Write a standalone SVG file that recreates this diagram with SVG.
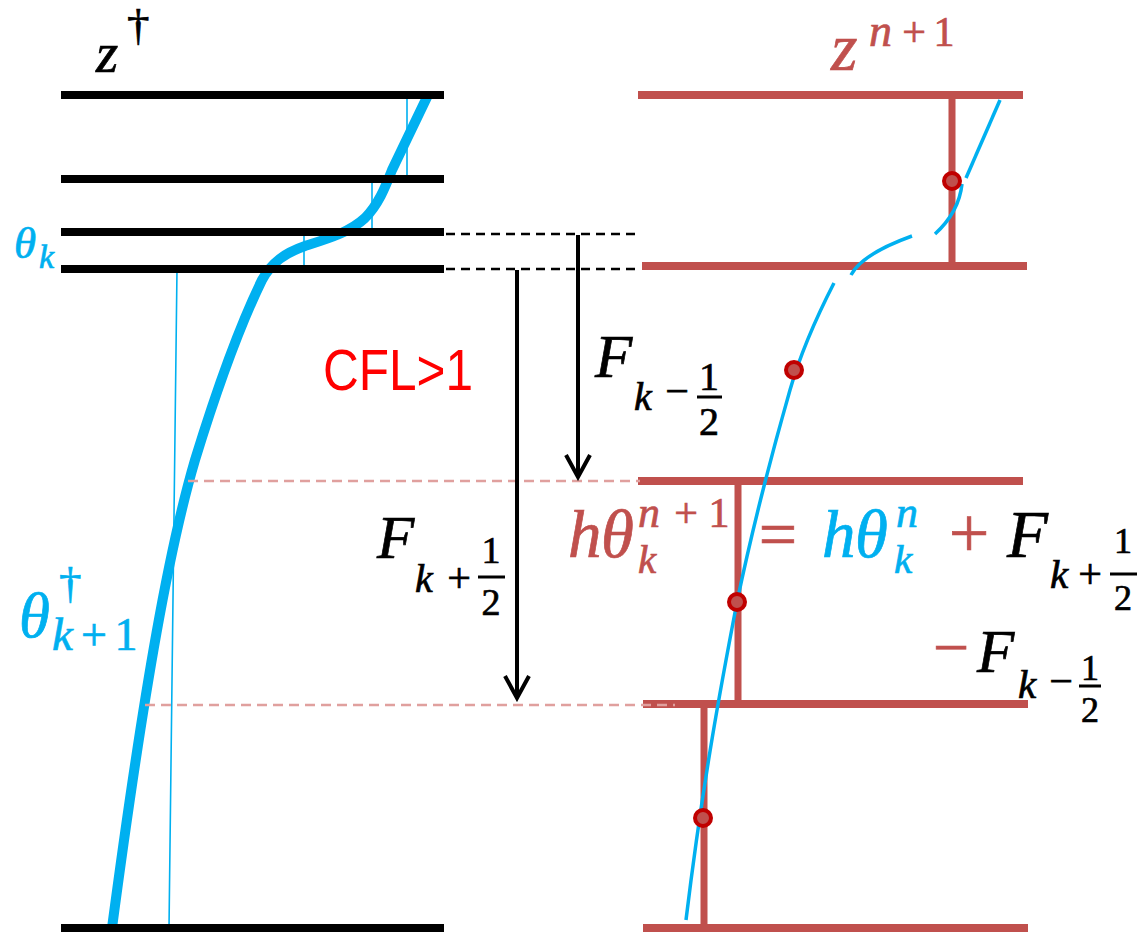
<svg xmlns="http://www.w3.org/2000/svg" width="1138" height="933" viewBox="0 0 1138 933">
<defs>
<style>
.blk{stroke:#000;stroke-width:8;fill:none}
.red{stroke:#c0504d;stroke-width:8;fill:none}
.redv{stroke:#c0504d;stroke-width:7;fill:none}
.dot{fill:#c0504d;stroke:#c00000;stroke-width:4}
.bdash{stroke:#000;stroke-width:2.5;stroke-dasharray:9 6;fill:none}
.pdash{stroke:#e0a09e;stroke-width:2.5;stroke-dasharray:10 6;fill:none}
.arr{stroke:#000;stroke-width:4;fill:none}
.m{font-family:"Liberation Serif","DejaVu Serif",serif;font-style:italic;stroke-width:0.7}
.u{font-family:"Liberation Serif","DejaVu Serif",serif;stroke-width:0.7}
.cb{fill:#00b0f0;stroke:#00b0f0}
.cr{fill:#c0504d;stroke:#c0504d}
.ck{fill:#000;stroke:#000}
.bar{stroke-width:3}
</style>
<marker id="chev" viewBox="-26 -15 30 30" refX="0" refY="0" markerWidth="30" markerHeight="30" markerUnits="userSpaceOnUse" orient="auto">
<path d="M-22,-12 L0,0 L-22,12" fill="none" stroke="#000" stroke-width="4"/>
</marker>
</defs>
<rect width="1138" height="933" fill="#fff"/>

<g id="left-profile">
<polyline points="407,95 407,179 372,179 372,232 304,232 304,269 177,269 169,928" fill="none" stroke="#00b0f0" stroke-width="1.6"/>
<path d="M428,95 L392,170 C385,188 378,205 365,218 C350,232 330,238 305,246 C285,253 272,262 262,280 C240,325 215,395 195,460 C170,545 145,680 112,928" fill="none" stroke="#00b0f0" stroke-width="10"/>
</g>

<g id="left-grid">
<line class="blk" x1="61" y1="95" x2="444" y2="95"/>
<line class="blk" x1="61" y1="179" x2="444" y2="179"/>
<line class="blk" x1="61" y1="232" x2="444" y2="232"/>
<line class="blk" x1="61" y1="269" x2="444" y2="269"/>
<line class="blk" x1="61" y1="928" x2="444" y2="928"/>
</g>

<g id="right-grid">
<line class="red" x1="638" y1="95" x2="1023" y2="95"/>
<line class="red" x1="642" y1="266" x2="1027" y2="266"/>
<line class="red" x1="638" y1="481" x2="1023" y2="481"/>
<line class="red" x1="643" y1="704" x2="1028" y2="704"/>
<line class="red" x1="643" y1="928" x2="1028" y2="928"/>
<line class="redv" x1="952" y1="95" x2="952" y2="266"/>
<line class="redv" x1="738" y1="481" x2="738" y2="704"/>
<line class="redv" x1="704" y1="704" x2="704" y2="928"/>
</g>

<g id="right-profile" fill="none" stroke="#00b0f0" stroke-width="3.5">
<path d="M1000,100 L966,178"/>
<path d="M962,184 Q959,212 935,234"/>
<path d="M912,236 Q862,254 851,275"/>
<path d="M834,283 C815,320 800,355 790,390 C770,460 750,540 737,602 C722,680 703,780 686,920"/>
</g>

<g id="points">
<circle class="dot" cx="952" cy="181" r="8"/>
<circle class="dot" cx="794" cy="370" r="8"/>
<circle class="dot" cx="737" cy="602" r="8"/>
<circle class="dot" cx="703" cy="818" r="8"/>
</g>

<g id="connectors">
<line class="bdash" x1="446" y1="234" x2="639" y2="234"/>
<line class="bdash" x1="446" y1="269" x2="639" y2="269"/>
<line class="pdash" x1="188" y1="481" x2="640" y2="481"/>
<line class="pdash" x1="145" y1="705" x2="675" y2="705"/>
<line class="arr" x1="578" y1="235" x2="578" y2="477" marker-end="url(#chev)"/>
<line class="arr" x1="517" y1="270" x2="517" y2="698" marker-end="url(#chev)"/>
</g>

<g id="label-z-dagger">
<text class="m ck" x="96" y="72" font-size="57">z</text>
<text class="u ck" x="127" y="40" font-size="45">†</text>
</g>

<g id="label-theta-k">
<text class="m cb" x="14" y="258" font-size="45">θ</text>
<text class="m cb" x="39" y="268" font-size="34">k</text>
</g>

<g id="label-theta-k1">
<text class="m cb" x="19" y="637" font-size="63">θ</text>
<text class="u cb" x="59" y="598" font-size="45">†</text>
<text class="m cb" x="52" y="650" font-size="47">k</text>
<text class="u cb" x="94" y="650" font-size="46" text-anchor="middle">+</text>
<text class="u cb" x="126" y="650" font-size="46" text-anchor="middle">1</text>
</g>

<g id="label-z-n1">
<text class="m cr" x="831" y="70" font-size="68">z</text>
<text class="m cr" x="869" y="46" font-size="46">n</text>
<text class="u cr" x="914" y="46" font-size="42" text-anchor="middle">+</text>
<text class="u cr" x="944" y="46" font-size="42" text-anchor="middle">1</text>
</g>

<g id="label-cfl">
<text x="323" y="390" font-family="'Liberation Sans',Arial,sans-serif" font-size="57" fill="#ff0000" textLength="150" lengthAdjust="spacingAndGlyphs">CFL&gt;1</text>
</g>

<g id="label-F-minus">
<text class="m ck" x="595" y="377" font-size="61">F</text>
<text class="m ck" x="634" y="410" font-size="40">k</text>
<text class="u ck" x="677" y="405" font-size="42" text-anchor="middle">−</text>
<text class="u ck" x="709" y="390" font-size="40" text-anchor="middle">1</text>
<line class="bar" x1="697" y1="397" x2="722" y2="397" stroke="#000"/>
<text class="u ck" x="709" y="435" font-size="40" text-anchor="middle">2</text>
</g>

<g id="label-F-plus">
<text class="m ck" x="377" y="558" font-size="61">F</text>
<text class="m ck" x="415" y="592" font-size="40">k</text>
<text class="u ck" x="459" y="592" font-size="42" text-anchor="middle">+</text>
<text class="u ck" x="491" y="563" font-size="38" text-anchor="middle">1</text>
<line class="bar" x1="478" y1="577" x2="505" y2="577" stroke="#000"/>
<text class="u ck" x="491" y="615" font-size="38" text-anchor="middle">2</text>
</g>

<g id="label-equation">
<text class="m cr" x="568" y="557" font-size="67">h</text>
<text class="m cr" x="601" y="557" font-size="67">θ</text>
<text class="m cr" x="638" y="527" font-size="44">n</text>
<text class="u cr" x="686" y="527" font-size="42" text-anchor="middle">+</text>
<text class="u cr" x="719" y="527" font-size="42" text-anchor="middle">1</text>
<text class="m cr" x="638" y="573" font-size="41">k</text>
<text class="u cr" x="778" y="557" font-size="68" text-anchor="middle">=</text>
<text class="m cb" x="822" y="557" font-size="67">h</text>
<text class="m cb" x="855" y="557" font-size="67">θ</text>
<text class="m cb" x="896" y="527" font-size="44">n</text>
<text class="m cb" x="894" y="573" font-size="41">k</text>
<text class="u cr" x="969" y="557" font-size="72" text-anchor="middle">+</text>
<text class="m ck" x="1007" y="557" font-size="67">F</text>
<text class="m ck" x="1050" y="588" font-size="41">k</text>
<text class="u ck" x="1090" y="588" font-size="42" text-anchor="middle">+</text>
<text class="u ck" x="1123" y="553" font-size="36" text-anchor="middle">1</text>
<line class="bar" x1="1110" y1="574" x2="1137" y2="574" stroke="#000"/>
<text class="u ck" x="1123" y="610" font-size="36" text-anchor="middle">2</text>
<text class="u cr" x="951" y="669" font-size="64" text-anchor="middle">−</text>
<text class="m ck" x="977" y="672" font-size="61">F</text>
<text class="m ck" x="1018" y="698" font-size="41">k</text>
<text class="u ck" x="1061" y="695" font-size="42" text-anchor="middle">−</text>
<text class="u ck" x="1090" y="680" font-size="36" text-anchor="middle">1</text>
<line class="bar" x1="1079" y1="686" x2="1101" y2="686" stroke="#000"/>
<text class="u ck" x="1090" y="722" font-size="36" text-anchor="middle">2</text>
</g>
</svg>
